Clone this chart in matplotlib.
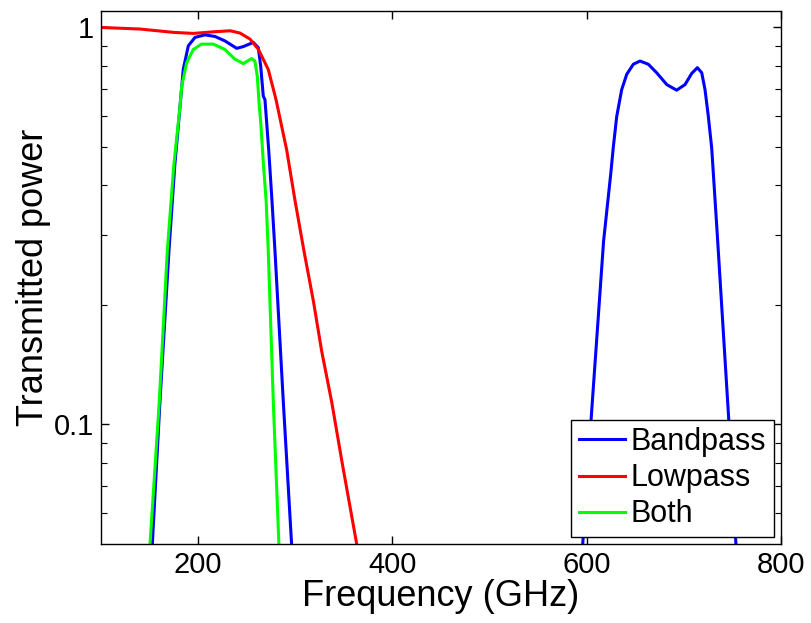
import matplotlib
matplotlib.use('Agg')
import matplotlib.pyplot as plt
from matplotlib.ticker import FixedLocator, NullFormatter

plt.rcParams['font.family'] = ['Liberation Sans', 'DejaVu Sans']

# Bandpass filter transmission (both bands)
band_f = [100, 140, 150.4, 152.8, 160.7, 170.0, 176, 182.0, 184.7, 189.9, 196.8,
          207.1, 217.4, 227.6, 239.7, 246.5, 256.8, 261.9, 264.4, 267.1, 268.8,
          272.7, 276.0, 279.1, 287.7, 296.3, 305, 400, 500, 590, 595.8, 605,
          617.4, 624.8, 627.4, 630.9, 636, 641.2, 648, 654.9, 663.4, 672, 682.4,
          692.6, 701.2, 708.1, 713.9, 718.4, 721.8, 725.2, 728.7, 734.3, 745.8,
          753.7, 760, 800]
band_t = [0.01, 0.03, 0.04, 0.0496, 0.114, 0.274, 0.45, 0.658, 0.784, 0.899, 0.944,
          0.958, 0.949, 0.925, 0.886, 0.895, 0.917, 0.89, 0.80, 0.671, 0.658,
          0.49, 0.367, 0.274, 0.114, 0.0496, 0.03, 0.005, 0.005, 0.03, 0.0496,
          0.107, 0.290, 0.429, 0.50, 0.597, 0.697, 0.762, 0.808, 0.823, 0.808,
          0.769, 0.718, 0.695, 0.718, 0.766, 0.792, 0.769, 0.697, 0.597, 0.496,
          0.304, 0.107, 0.0496, 0.03, 0.005]

# Lowpass filter transmission
low_f = [100, 140.1, 174.4, 195, 215.6, 233.1, 243.1, 253.4, 261.9, 272.2, 280.2,
         291.2, 299.7, 308.9, 318.6, 327.2, 337.5, 348.3, 363.5, 372]
low_t = [1.0, 0.991, 0.972, 0.966, 0.975, 0.981, 0.968, 0.935, 0.882, 0.784,
         0.658, 0.491, 0.367, 0.274, 0.205, 0.153, 0.114, 0.08, 0.0496, 0.04]

# Combined (bandpass x lowpass)
both_f = [100, 140, 150.4, 160.0, 168.3, 175, 181.0, 183.1, 188.2, 195.0, 203.6,
          215.6, 227.6, 237.9, 246.5, 255.1, 258.5, 260.9, 263.0, 264.4, 267.3,
          270.0, 272.2, 277.4, 283.2, 290, 800]
both_t = [0.01, 0.03, 0.0496, 0.114, 0.274, 0.45, 0.62, 0.711, 0.815, 0.88, 0.908,
          0.908, 0.88, 0.832, 0.811, 0.835, 0.823, 0.754, 0.633, 0.58, 0.45,
          0.367, 0.274, 0.114, 0.0496, 0.03, 0.001]

fig = plt.figure(figsize=(8.11, 6.23), dpi=100)
ax = fig.add_axes([0.1245, 0.1268, 0.8385, 0.8555])

ax.plot(band_f, band_t, color=(0, 0, 1), lw=2.2, label='Bandpass')
ax.plot(low_f, low_t, color=(1, 0, 0), lw=2.2, label='Lowpass')
ax.plot(both_f, both_t, color=(0, 1, 0), lw=2.2, label='Both')

ax.set_yscale('log')
ax.set_xlim(100, 800)
ax.set_ylim(0.05, 1.1)

ax.set_xticks([200, 400, 600, 800])
ax.yaxis.set_major_locator(FixedLocator([0.1, 1]))
ax.yaxis.set_minor_locator(FixedLocator([0.06, 0.07, 0.08, 0.09, 0.2, 0.3, 0.4,
                                         0.5, 0.6, 0.7, 0.8, 0.9]))
ax.yaxis.set_minor_formatter(NullFormatter())
ax.set_yticklabels(['0.1', '1'])

ax.tick_params(which='both', direction='in', top=True, right=True, labelsize=21)
ax.tick_params(which='major', length=6, width=1, pad=5)
ax.tick_params(which='minor', length=4, width=0.8)
for sp in ax.spines.values():
    sp.set_linewidth(1)

ax.set_xlabel('Frequency (GHz)', fontsize=26, labelpad=0)
ax.set_ylabel('Transmitted power', fontsize=26, labelpad=2)

leg = ax.legend(loc='lower right', bbox_to_anchor=(0.9897, 0.0131),
                borderaxespad=0, fontsize=22, fancybox=False, framealpha=1,
                edgecolor='black', handlelength=1.5, handletextpad=0.2,
                labelspacing=0.2, borderpad=0.25)
leg.get_frame().set_linewidth(1)

fig.savefig('out.png', dpi=100)
